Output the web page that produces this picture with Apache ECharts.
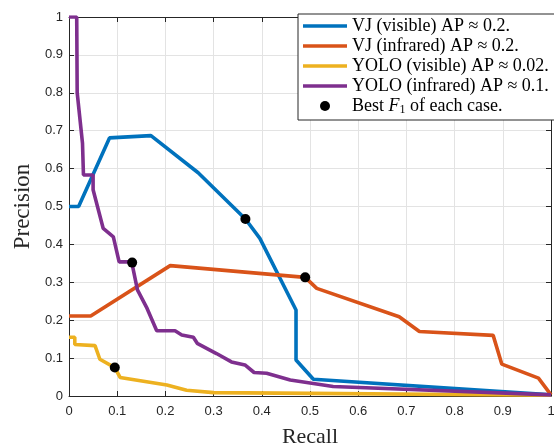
<!DOCTYPE html>
<html><head><meta charset="utf-8">
<script src="https://cdn.jsdelivr.net/npm/echarts@6/dist/echarts.min.js"></script>
<style>html,body{margin:0;padding:0;background:#fff}#c{width:554px;height:447px}</style>
</head><body><div id="c"></div>
<script>
// Data: [recall, precision]
var vjVisible = [[0,0.5],[0.02,0.5],[0.084,0.681],[0.17,0.687],[0.268,0.589],[0.366,0.467],[0.396,0.416],[0.471,0.227],[0.471,0.095],[0.507,0.044],[1,0.003]];
var vjInfrared = [[0,0.211],[0.045,0.211],[0.21,0.344],[0.49,0.313],[0.514,0.284],[0.685,0.209],[0.727,0.17],[0.88,0.16],[0.898,0.084],[0.974,0.047],[1,0.003]];
var yoloVisible = [[0,0.155],[0.012,0.155],[0.012,0.136],[0.054,0.133],[0.064,0.097],[0.095,0.075],[0.106,0.049],[0.203,0.029],[0.244,0.015],[0.3,0.009],[0.5,0.007],[1,0.002]];
var yoloInfrared = [[0,1.0],[0.016,1.0],[0.017,0.8],[0.028,0.667],[0.03,0.583],[0.05,0.583],[0.05,0.544],[0.071,0.442],[0.092,0.42],[0.104,0.354],[0.13,0.354],[0.142,0.28],[0.162,0.231],[0.182,0.172],[0.22,0.172],[0.234,0.161],[0.258,0.155],[0.266,0.139],[0.306,0.112],[0.337,0.09],[0.365,0.082],[0.384,0.062],[0.41,0.06],[0.459,0.042],[0.548,0.025],[1,0.003]];
var bestF1 = [[0.366,0.467],[0.49,0.313],[0.131,0.352],[0.095,0.075]];
var seriesNames = ['VJ (visible) AP \u2248 0.2.','VJ (infrared) AP \u2248 0.2.','YOLO (visible) AP \u2248 0.02.','YOLO (infrared) AP \u2248 0.1.','Best F1 of each case.'];
var xTickLabels = ['0','0.1','0.2','0.3','0.4','0.5','0.6','0.7','0.8','0.9','1'];
var yTickLabels = ['0','0.1','0.2','0.3','0.4','0.5','0.6','0.7','0.8','0.9','1'];
var colors = ['#0072BD','#D95319','#EDB120','#7E2F8E','#000000'];

var chart = echarts.init(document.getElementById('c'), null, {renderer:'canvas'});
var axisCol = '#262626';
var gridCol = '#e3e3e3';
var tickFont = {fontFamily:'Liberation Sans', fontSize:13, color:'#262626'};
function lbl(arr){ return function(v){ var i = Math.round(v*10); return arr[i]!==undefined?arr[i]:''; }; }
var baseX = {type:'value', min:0, max:1, interval:0.1};
var lineIcon = 'path://M0,0L44,0L44,3.6L0,3.6Z';
var lines = [vjVisible, vjInfrared, yoloVisible, yoloInfrared].map(function(d,i){
  return {name:seriesNames[i], type:'line', data:d, symbol:'none', showSymbol:false, color:colors[i],
    itemStyle:{color:colors[i]}, lineStyle:{width:3.6, color:colors[i]}, z:2+i, animation:false};
});
lines.push({name:seriesNames[4], type:'scatter', data:bestF1, symbol:'circle', symbolSize:10,
  itemStyle:{color:'#000', opacity:1}, z:10, animation:false});
chart.setOption({
  animation:false,
  color:colors,
  grid:{left:69, top:17, right:3, bottom:51, containLabel:false, outerBoundsMode:'none'},
  xAxis:[
    Object.assign({}, baseX, {position:'bottom', name:'Recall', nameLocation:'middle', nameGap:30,
      nameTextStyle:{fontFamily:'Liberation Serif', fontSize:22, color:'#262626'},
      axisLine:{show:true, onZero:false, lineStyle:{color:axisCol, width:1}},
      axisTick:{show:true, inside:true, length:5, lineStyle:{color:axisCol}},
      axisLabel:Object.assign({formatter:lbl(xTickLabels), margin:9, showMaxLabel:true, showMinLabel:true}, tickFont),
      splitLine:{show:true, lineStyle:{color:gridCol, width:1}}}),
    Object.assign({}, baseX, {position:'top',
      axisLine:{show:true, onZero:false, lineStyle:{color:axisCol, width:1}},
      axisTick:{show:true, inside:true, length:5, lineStyle:{color:axisCol}},
      axisLabel:{show:false}, splitLine:{show:false}})
  ],
  yAxis:[
    Object.assign({}, baseX, {position:'left', name:'Precision', nameLocation:'middle', nameGap:33,
      nameTextStyle:{fontFamily:'Liberation Serif', fontSize:23, color:'#262626'},
      axisLine:{show:true, onZero:false, lineStyle:{color:axisCol, width:1}},
      axisTick:{show:true, inside:true, length:5, lineStyle:{color:axisCol}},
      axisLabel:Object.assign({formatter:lbl(yTickLabels), margin:6, showMaxLabel:true, showMinLabel:true}, tickFont),
      splitLine:{show:true, lineStyle:{color:gridCol, width:1}}}),
    Object.assign({}, baseX, {position:'right',
      axisLine:{show:true, onZero:false, lineStyle:{color:axisCol, width:1}},
      axisTick:{show:true, inside:true, length:5, lineStyle:{color:axisCol}},
      axisLabel:{show:false}, splitLine:{show:false}})
  ],
  legend:{
    left:298, top:14, orient:'vertical', selectedMode:false,
    backgroundColor:'#fff', borderColor:'#262626', borderWidth:1, borderRadius:0,
    padding:[3,30,4,5], itemGap:2, itemWidth:44, itemHeight:10,
    textStyle:{fontFamily:'Liberation Serif', fontSize:18, color:'#000',
      rich:{i:{fontFamily:'Liberation Serif', fontSize:18, fontStyle:'italic', color:'#000'},
            s:{fontFamily:'Liberation Serif', fontSize:12, color:'#000', padding:[8,0,0,0]},
            t:{fontFamily:'Liberation Serif', fontSize:18, color:'#000'}}},
    formatter:function(n){ if(n===seriesNames[4]) return '{t|Best }{i|F}{s|1}{t| of each case.}'; return n; },
    data:seriesNames.map(function(n,i){
      return i===4?{name:n, icon:'circle', itemStyle:{color:'#000', opacity:1}}:{name:n, icon:lineIcon, itemStyle:{color:colors[i]}};
    }),
    z:20
  },
  series:lines
});
</script></body></html>
